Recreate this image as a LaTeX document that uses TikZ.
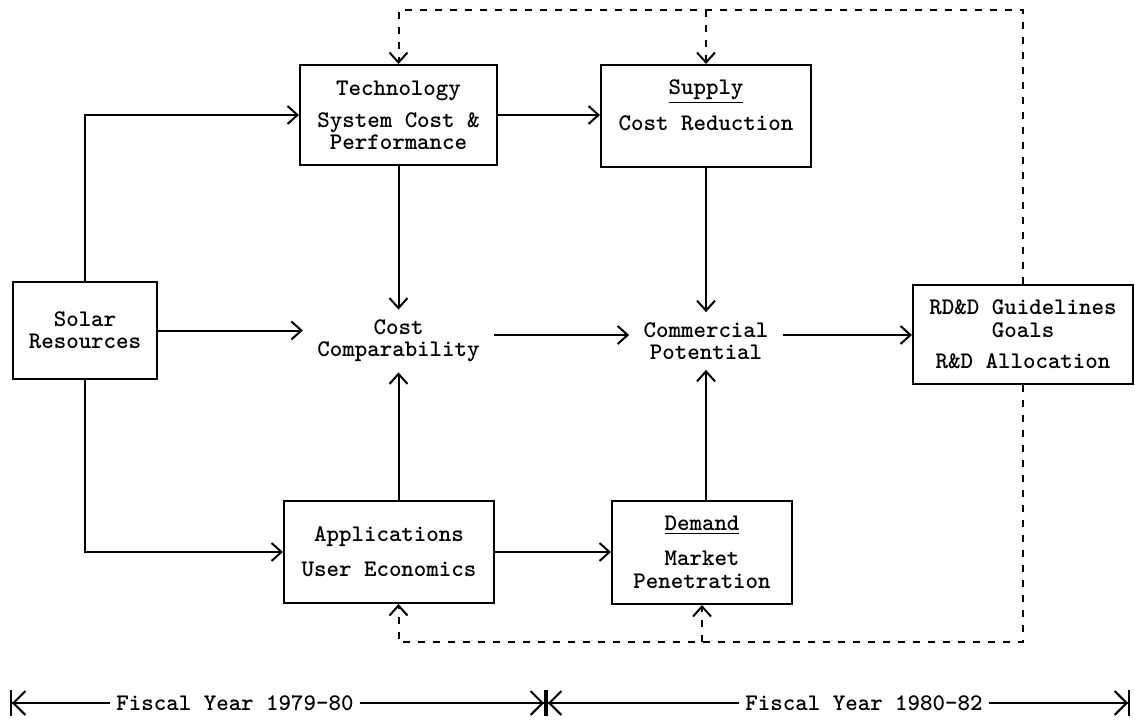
\documentclass[tikz,border=0pt]{standalone}
\usetikzlibrary{arrows.meta, positioning}
\tikzset{
  blk/.style={draw, line width=1pt, align=center, inner sep=0pt,
    font=\fontsize{11.9}{11}\selectfont\ttfamily\bfseries},
  lbl/.style={align=center, inner xsep=7pt, inner ysep=5pt,
    font=\fontsize{11.9}{11}\selectfont\ttfamily\bfseries},
  arr/.style={-{Straight Barb[length=5pt,width=9pt]}, line width=1pt},
  darr/.style={arr, dash pattern=on 3.5pt off 4pt},
  yr/.style={font=\fontsize{11.9}{11}\selectfont\ttfamily\bfseries, inner xsep=3pt},
  span/.style={-{Straight Barb[length=6pt,width=12pt]Bar[width=13pt]}, line width=1pt},
}
\begin{document}
\begin{tikzpicture}[x=0.5pt, y=-0.5pt]
  \useasboundingbox (0,0) rectangle (1135,724);

  \node[blk, minimum width=72pt, minimum height=48.5pt] (solar) at (85,330.5)
    {Solar\\Resources};
  \node[blk, minimum width=98.5pt, minimum height=50pt] (tech) at (398.5,115)
    {Technology\\[5pt]System Cost \&\\Performance};
  \node[blk, minimum width=105pt, minimum height=51pt] (supply) at (706,116)
    {\underline{Supply}\\[5pt]Cost Reduction\\\mbox{}};
  \node[lbl] (costc) at (398.5,341) {Cost\\Comparability};
  \node[lbl] (commp) at (706,341) {Commercial\\Potential};
  \node[blk, minimum width=105pt, minimum height=51pt] (apps) at (389,552)
    {Applications\\[6.5pt]User Economics};
  \node[blk, minimum width=90pt, minimum height=51.5pt] (demand) at (702,552.5)
    {\underline{Demand}\\[6.5pt]Market\\[0.5pt]Penetration};
  \node[blk, minimum width=110pt, minimum height=49.5pt] (rdd) at (1023,334.5)
    {RD\&D Guidelines\\[0.5pt]Goals\\[4.5pt]R\&D Allocation};

  \coordinate (fbtop) at (1023,10);
  \coordinate (fbbot) at (1023,642);

  \draw[arr] (solar.north) |- (tech.west);
  \draw[arr] (solar.east) -- (solar.east -| costc.west);
  \draw[arr] (solar.south) |- (apps.west);
  \draw[arr] (tech.east) -- (tech.east -| supply.west);
  \draw[arr] (tech.south) -- (costc.north);
  \draw[arr] (costc |- apps.north) -- (costc.south);
  \draw[arr] ([yshift=3pt]costc.east) -- ([yshift=3pt]commp.west);
  \draw[arr] (supply.south) -- (commp.north);
  \draw[arr] (commp |- demand.north) -- (commp.south);
  \draw[arr] (apps.east) -- (apps.east -| demand.west);
  \draw[arr] ([yshift=3pt]commp.east) -- ([yshift=3pt]commp.east -| rdd.west);

  \draw[darr] (rdd.north) -- (fbtop) -| (tech.north);
  \draw[darr] (supply.north |- fbtop) -- (supply.north);
  \draw[darr] (rdd.south) -- (fbbot) -| (costc |- apps.south);
  \draw[darr] (demand.south |- fbbot) -- (demand.south);

  \coordinate (t0) at (10,703);
  \coordinate (tm) at (546,703);
  \coordinate (t1) at (1130,703);
  \node[yr] (fy1) at (235,703) {Fiscal Year 1979-80};
  \node[yr] (fy2) at (864,703) {Fiscal Year 1980-82};
  \draw[span] (fy1.west) -- (t0);
  \draw[span] (fy1.east) -- (tm);
  \draw[span] (fy2.west) -- (tm);
  \draw[span] (fy2.east) -- (t1);
\end{tikzpicture}
\end{document}
